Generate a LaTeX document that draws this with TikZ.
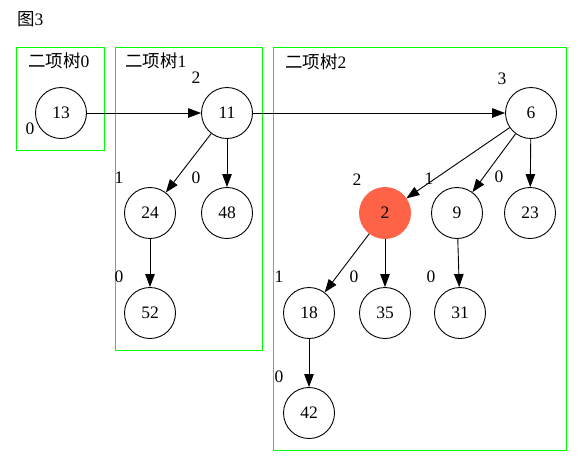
\documentclass[tikz,border=0pt]{standalone}
\usepackage{fontspec}
\setmainfont{Liberation Serif}
\newfontfamily\cjk{Noto Sans CJK SC}
\usetikzlibrary{arrows.meta}
\definecolor{tomatoc}{HTML}{FF6347}
\definecolor{grn}{HTML}{00FF00}
\begin{document}
\begin{tikzpicture}[x=1pt,y=-1pt,
  every node/.style={font=\fontsize{17.5}{20}\selectfont},
  nd/.style={circle,draw,line width=0.9pt,minimum size=51pt,inner sep=0pt},
  hl/.style={nd,fill=tomatoc,draw=tomatoc},
  lb/.style={inner sep=0pt},
  cl/.style={draw=grn,line width=1pt},
  ar/.style={-{Triangle[length=13pt,width=9.5pt]},line width=0.9pt}]
\useasboundingbox (0,0) rectangle (583,467);
% clusters
\draw[cl] (16,47) rectangle (104,150);
\draw[cl] (115,47) rectangle (262,350);
\draw[cl] (273,47) rectangle (566,450);
\node[lb,anchor=west] (title) at (17,19) {{\cjk 图}3};
\node[lb,anchor=west] (c0) at (28,61) {{\cjk 二项树}0};
\node[lb,anchor=west] (c1) at (125,61) {{\cjk 二项树}1};
\node[lb,anchor=west] (c2) at (285,62) {{\cjk 二项树}2};
% nodes
\node[nd] (n13) at (61,113) {13};
\node[nd] (n11) at (227,113) {11};
\node[nd] (n6) at (531,113) {6};
\node[nd] (n24) at (150,213) {24};
\node[nd] (n48) at (227,213) {48};
\node[nd] (n52) at (150,313) {52};
\node[hl] (n2) at (385,213) {2};
\node[nd] (n9) at (457,213) {9};
\node[nd] (n23) at (530,213) {23};
\node[nd] (n18) at (309,313) {18};
\node[nd] (n35) at (385,313) {35};
\node[nd] (n31) at (460,313) {31};
\node[nd] (n42) at (309,413) {42};
% degree labels
\node[lb] (l13) at (30,129) {0};
\node[lb] (l11) at (196,78) {2};
\node[lb] (l6) at (502,79) {3};
\node[lb] (l2) at (357,180) {2};
\node[lb] (l9) at (429,179) {1};
\node[lb] (l23) at (499,177) {0};
\node[lb] (l24) at (119,178) {1};
\node[lb] (l48) at (196,178) {0};
\node[lb] (l52) at (119,277) {0};
\node[lb] (l18) at (279,277) {1};
\node[lb] (l35) at (354,277) {0};
\node[lb] (l31) at (431,277) {0};
\node[lb] (l42) at (279,377) {0};
% edges
\draw[ar] (n13) -- (n11);
\draw[ar] (n11) -- (n6);
\draw[ar] (n11) -- (n24);
\draw[ar] (n11) -- (n48);
\draw[ar] (n24) -- (n52);
\draw[ar] (n6) -- (n2);
\draw[ar] (n6) -- (n9);
\draw[ar] (n6) -- (n23);
\draw[ar] (n2) -- (n18);
\draw[ar] (n2) -- (n35);
\draw[ar] (n9) -- (n31);
\draw[ar] (n18) -- (n42);
\end{tikzpicture}
\end{document}
